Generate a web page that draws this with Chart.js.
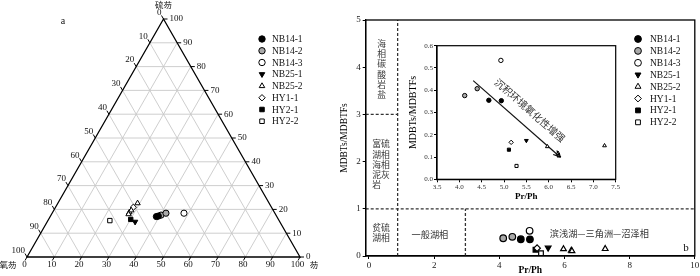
<!DOCTYPE html>
<html>
<head>
<meta charset="utf-8">
<script src="https://cdn.jsdelivr.net/npm/chart.js@4.4.1/dist/chart.umd.min.js"></script>
<style>
    html, body { margin: 0; padding: 0; background: #fff; }
    #wrap { position: relative; width: 700px; height: 276px; overflow: hidden; }
    .box { position: absolute; }
</style>
</head>
<body>
<div id="wrap">
    <div class="box" style="left:0;top:0;width:330px;height:276px"><canvas id="ternChart"></canvas></div>
    <div class="box" style="left:330px;top:0;width:370px;height:276px"><canvas id="mainChart"></canvas></div>
    <div class="box" style="left:400px;top:38px;width:225px;height:168px"><canvas id="insetChart"></canvas></div>
</div>
<script>
(function () {
    'use strict';

    // samples
    var sampleNames = ['NB14-1', 'NB14-2', 'NB14-3', 'NB25-1', 'NB25-2', 'HY1-1', 'HY2-1', 'HY2-2'];
    var pointSample = [0, 0, 1, 1, 2, 3, 4, 4, 4, 4, 5, 6, 7];

    // Pr/Ph vs MDBTs/MDBTFs
    var prPh      = [4.66, 4.94, 4.12, 4.40, 4.93, 5.50, 5.97, 6.21, 6.23, 7.25, 5.16, 5.11, 5.28];
    var mdbtRatio = [0.355, 0.353, 0.376, 0.407, 0.534, 0.174, 0.147, 0.117, 0.105, 0.151, 0.166, 0.133, 0.060];

    // ternary composition (%): 硫芴 / 氧芴 / 芴
    var dbtPct = [17.2, 17.0, 17.6, 18.4, 18.4, 14.8, 18.8, 18.0, 22.6, 19.6, 20.9, 15.8, 15.3];
    var dbfPct = [43.3, 44.1, 42.1, 39.9, 33.3, 53.0, 53.1, 53.8, 48.2, 52.0, 50.6, 54.1, 62.0];
    var fluPct = [39.5, 38.9, 40.3, 41.7, 48.3, 32.2, 28.1, 28.2, 29.2, 28.4, 28.5, 30.1, 22.7];

    // facies boundaries
    var prPhBounds = [0.88, 2.96];
    var ratioBounds = [1, 3];

    // trend arrow in inset
    var trendPrPh = [4.31, 6.25];
    var trendRatio = [0.443, 0.101];

    // ticks
    var ternTicks = [0, 10, 20, 30, 40, 50, 60, 70, 80, 90, 100];
    var mainXTicks = [0, 2, 4, 6, 8, 10];
    var mainYTicks = [0, 1, 2, 3, 4, 5];
    var insetXTicks = [3.5, 4.0, 4.5, 5.0, 5.5, 6.0, 6.5, 7.0, 7.5];
    var insetYTicks = [0.0, 0.1, 0.2, 0.3, 0.4, 0.5, 0.6];

    var markerStyles = [
        { pointStyle: 'circle', fill: '#000' },
        { pointStyle: 'circle', fill: '#a9a9a9' },
        { pointStyle: 'circle', fill: '#fff' },
        { pointStyle: 'triangle', fill: '#000', rotation: 180 },
        { pointStyle: 'triangle', fill: '#fff' },
        { pointStyle: 'rectRot', fill: '#fff' },
        { pointStyle: 'rect', fill: '#000' },
        { pointStyle: 'rect', fill: '#fff' }
    ];

    var serif = "'Liberation Serif', 'DejaVu Serif', serif";
    var cjk = "'Noto Sans CJK SC', sans-serif";
    Chart.defaults.font.family = serif;
    Chart.defaults.color = '#000';
    Chart.defaults.animation = false;

    function markerSets(xs, ys, radius, bw) {
        return sampleNames.map(function (name, k) {
            var st = markerStyles[k];
            var pts = [];
            pointSample.forEach(function (s, i) {
                if (s === k) pts.push({ x: xs[i], y: ys[i] });
            });
            return {
                label: name,
                data: pts,
                pointStyle: st.pointStyle,
                pointRotation: st.rotation || 0,
                pointBackgroundColor: st.fill,
                pointBorderColor: '#000',
                pointBorderWidth: bw,
                pointRadius: radius,
                showLine: false,
                order: 1
            };
        });
    }

    function drawLegend(ctx, x0, y0, dy, gap, radius) {
        sampleNames.forEach(function (name, k) {
            var st = markerStyles[k];
            var y = y0 + k * dy;
            ctx.save();
            ctx.fillStyle = st.fill;
            ctx.strokeStyle = '#000';
            ctx.lineWidth = 1;
            Chart.helpers.drawPoint(ctx, { pointStyle: st.pointStyle, rotation: st.rotation || 0, radius: radius, borderWidth: 1 }, x0, y);
            ctx.fillStyle = '#111';
            ctx.font = '9.5px ' + serif;
            ctx.textAlign = 'left';
            ctx.textBaseline = 'middle';
            ctx.fillText(name, x0 + gap, y + 0.5);
            ctx.restore();
        });
    }

    function text(ctx, str, x, y, font, align, color) {
        ctx.save();
        ctx.font = font;
        ctx.fillStyle = color || '#111';
        ctx.textAlign = align || 'center';
        ctx.textBaseline = 'middle';
        ctx.fillText(str, x, y);
        ctx.restore();
    }

    // ---------- a: ternary ----------
    var ternX = fluPct.map(function (f, i) {
        var sum = f + dbtPct[i] + dbfPct[i];
        return (f + dbtPct[i] / 2) / sum;
    });
    var ternY = dbtPct.map(function (s, i) {
        return s / (s + dbfPct[i] + fluPct[i]);
    });

    var ternPlugin = {
        id: 'ternFrame',
        beforeDatasetsDraw: function (chart) {
            var ctx = chart.ctx;
            var sx = chart.scales.x, sy = chart.scales.y;
            // s = 硫芴 share, f = 芴 share
            var P = function (s, f) { return { x: sx.getPixelForValue(f + s / 2), y: sy.getPixelForValue(s) }; };
            var line = function (a, b) { ctx.beginPath(); ctx.moveTo(a.x, a.y); ctx.lineTo(b.x, b.y); ctx.stroke(); };

            ctx.save();
            ctx.strokeStyle = '#c8c8c8';
            ctx.lineWidth = 0.9;
            for (var i = 1; i < 10; i++) {
                var v = i / 10;
                line(P(v, 0), P(v, 1 - v));
                line(P(0, v), P(1 - v, v));
                line(P(1 - v, 0), P(0, 1 - v));
            }
            var bl = P(0, 0), br = P(0, 1), apex = P(1, 0);
            ctx.strokeStyle = '#000';
            ctx.lineWidth = 1.3;
            ctx.beginPath();
            ctx.moveTo(bl.x, bl.y); ctx.lineTo(br.x, br.y); ctx.lineTo(apex.x, apex.y); ctx.closePath();
            ctx.stroke();

            ctx.lineWidth = 1;
            ternTicks.forEach(function (t) {
                var v = t / 100;
                // bottom: 芴
                var p = P(0, v);
                line(p, { x: p.x - 2, y: p.y + 3.5 });
                text(ctx, String(t), p.x - 2.5, p.y + 7.5, '9px ' + serif);
                // left: 氧芴
                p = P(1 - v, 0);
                line(p, { x: p.x - 2, y: p.y - 3.5 });
                text(ctx, String(t), p.x - 2, p.y - 6.5, '9px ' + serif, 'right');
                // right: 硫芴
                p = P(v, 1 - v);
                line(p, { x: p.x + 4, y: p.y });
                text(ctx, String(t), p.x + 6, p.y, '9px ' + serif, 'left');
            });
            ctx.restore();

            text(ctx, '硫芴', apex.x, apex.y - 14, '8.5px ' + cjk);
            text(ctx, '氧芴', 8, bl.y + 7.5, '8.5px ' + cjk);
            text(ctx, '芴', br.x + 14, br.y + 7.5, '8.5px ' + cjk);
        },
        afterDraw: function (chart) {
            drawLegend(chart.ctx, 262, 39, 11.75, 10, 3.2);
            text(chart.ctx, 'a', 63, 21, '10px ' + serif);
        }
    };

    new Chart(document.getElementById('ternChart').getContext('2d'), {
        type: 'scatter',
        data: { datasets: markerSets(ternX, ternY, 3.1, 1) },
        options: {
            responsive: true,
            maintainAspectRatio: false,
            layout: { padding: { left: 27, right: 30, top: 19, bottom: 19 } },
            plugins: { legend: { display: false }, tooltip: { enabled: false } },
            scales: {
                x: { display: false, min: 0, max: 1 },
                y: { display: false, min: 0, max: 1 }
            }
        },
        plugins: [ternPlugin]
    });

    // ---------- b: Pr/Ph vs MDBTs/MDBTFs ----------
    function dashed(pts) {
        return {
            type: 'line',
            data: pts,
            borderColor: '#333',
            borderWidth: 1.3,
            borderDash: [3, 2],
            pointRadius: 0,
            fill: false,
            order: 10
        };
    }
    var xMin = -0.1, xMax = 10, yMax = 5;
    var mainSets = [
        dashed([{ x: prPhBounds[0], y: 0 }, { x: prPhBounds[0], y: yMax }]),
        dashed([{ x: xMin, y: ratioBounds[1] }, { x: prPhBounds[0], y: ratioBounds[1] }]),
        dashed([{ x: xMin, y: ratioBounds[0] }, { x: xMax, y: ratioBounds[0] }]),
        dashed([{ x: prPhBounds[1], y: 0 }, { x: prPhBounds[1], y: ratioBounds[0] }])
    ].concat(markerSets(prPh, mdbtRatio, 3.3, 1.2));

    var mainPlugin = {
        id: 'mainDecor',
        afterDatasetsDraw: function (chart) {
            var ctx = chart.ctx, ca = chart.chartArea;
            var sx = chart.scales.x, sy = chart.scales.y;
            ctx.save();
            ctx.strokeStyle = '#000';
            ctx.lineWidth = 1.3;
            ctx.strokeRect(ca.left, ca.top, ca.right - ca.left, ca.bottom - ca.top);
            ctx.restore();

            var f = '8.8px ' + cjk;
            var colX = sx.getPixelForValue(0.39);
            var chars = ['海', '相', '碳', '酸', '岩', '盐'];
            chars.forEach(function (ch, i) {
                text(ctx, ch, colX, sy.getPixelForValue(4.5) + i * 10.2, f, 'center', '#333');
            });
            var leftX = sx.getPixelForValue(0.1);
            ['富硫', '湖相', '海相', '泥灰', '岩'].forEach(function (row, i) {
                text(ctx, row, leftX, sy.getPixelForValue(2.37) + i * 10.2, f, 'left', '#333');
            });
            ['贫硫', '湖相'].forEach(function (row, i) {
                text(ctx, row, leftX, sy.getPixelForValue(0.61) + i * 10.2, f, 'left', '#333');
            });
            text(ctx, '一般湖相', sx.getPixelForValue(1.87), sy.getPixelForValue(0.46), '9.2px ' + cjk, 'center', '#333');
            text(ctx, '滨浅湖—三角洲—沼泽相', sx.getPixelForValue(7.07), sy.getPixelForValue(0.48), '9.2px ' + cjk, 'center', '#333');
            text(ctx, 'b', sx.getPixelForValue(9.73), sy.getPixelForValue(0.17), '11px ' + serif);

            drawLegend(ctx, 308, 39, 11.9, 12, 3.4);
        }
    };

    new Chart(document.getElementById('mainChart').getContext('2d'), {
        type: 'scatter',
        data: { datasets: mainSets },
        options: {
            responsive: true,
            maintainAspectRatio: false,
            layout: { padding: { left: 0, right: 3.5, top: 20, bottom: 0 } },
            plugins: { legend: { display: false }, tooltip: { enabled: false } },
            scales: {
                x: {
                    type: 'linear', min: xMin, max: xMax,
                    afterBuildTicks: function (s) { s.ticks = mainXTicks.map(function (v) { return { value: v }; }); },
                    afterFit: function (s) { s.height = 20; s.paddingLeft = 0; s.paddingRight = 0; },
                    grid: { display: true, drawOnChartArea: false, tickLength: 3, color: '#000' },
                    border: { color: '#000', width: 1.3 },
                    ticks: { font: { size: 9 }, padding: 1, maxRotation: 0, color: '#222' },
                    title: { display: true, text: 'Pr/Ph', font: { size: 9.5, weight: 'bold' }, padding: 0 }
                },
                y: {
                    type: 'linear', min: 0, max: yMax,
                    afterBuildTicks: function (s) { s.ticks = mainYTicks.map(function (v) { return { value: v }; }); },
                    afterFit: function (s) { s.width = 35.7; s.paddingTop = 0; s.paddingBottom = 0; },
                    grid: { display: true, drawOnChartArea: false, tickLength: 3, color: '#000' },
                    border: { color: '#000', width: 1.3 },
                    ticks: { font: { size: 9 }, padding: 2, color: '#222' },
                    title: { display: true, text: 'MDBTs/MDBTFs', font: { size: 9.5 }, padding: { top: 9, bottom: 0 } }
                }
            }
        },
        plugins: [mainPlugin]
    });

    // ---------- inset ----------
    var insetSets = [{
        type: 'line',
        data: [{ x: trendPrPh[0], y: trendRatio[0] }, { x: trendPrPh[1], y: trendRatio[1] }],
        borderColor: '#111',
        borderWidth: 1.2,
        pointRadius: 0,
        fill: false,
        order: 5
    }].concat(markerSets(prPh, mdbtRatio, 2.2, 1));

    var insetPlugin = {
        id: 'insetDecor',
        afterDatasetsDraw: function (chart) {
            var ctx = chart.ctx, ca = chart.chartArea;
            var sx = chart.scales.x, sy = chart.scales.y;
            ctx.save();
            ctx.strokeStyle = '#000';
            ctx.lineWidth = 1.2;
            ctx.strokeRect(ca.left, ca.top, ca.right - ca.left, ca.bottom - ca.top);

            var p1 = { x: sx.getPixelForValue(trendPrPh[0]), y: sy.getPixelForValue(trendRatio[0]) };
            var p2 = { x: sx.getPixelForValue(trendPrPh[1]), y: sy.getPixelForValue(trendRatio[1]) };
            var ang = Math.atan2(p2.y - p1.y, p2.x - p1.x);
            ctx.lineWidth = 1.1;
            ctx.beginPath();
            ctx.moveTo(p2.x - 7 * Math.cos(ang - 0.4), p2.y - 7 * Math.sin(ang - 0.4));
            ctx.lineTo(p2.x, p2.y);
            ctx.lineTo(p2.x - 7 * Math.cos(ang + 0.4), p2.y - 7 * Math.sin(ang + 0.4));
            ctx.stroke();

            ctx.translate(sx.getPixelForValue(5.58), sy.getPixelForValue(0.31));
            ctx.rotate(ang);
            ctx.font = '10px ' + cjk;
            ctx.fillStyle = '#333';
            ctx.textAlign = 'center';
            ctx.textBaseline = 'middle';
            ctx.fillText('沉积环境氧化性增强', 0, 0);
            ctx.restore();
        }
    };

    new Chart(document.getElementById('insetChart').getContext('2d'), {
        type: 'scatter',
        data: { datasets: insetSets },
        options: {
            responsive: true,
            maintainAspectRatio: false,
            layout: { padding: { left: 0, right: 9.3, top: 7.7, bottom: 0 } },
            plugins: { legend: { display: false }, tooltip: { enabled: false } },
            scales: {
                x: {
                    type: 'linear', min: 3.5, max: 7.5,
                    afterBuildTicks: function (s) { s.ticks = insetXTicks.map(function (v) { return { value: v }; }); },
                    afterFit: function (s) { s.height = 26.7; s.paddingLeft = 0; s.paddingRight = 0; },
                    grid: { display: true, drawOnChartArea: false, tickLength: 3, color: '#000' },
                    border: { color: '#000', width: 1.2 },
                    ticks: { font: { size: 7 }, padding: 1, maxRotation: 0, color: '#333', callback: function (v) { return v.toFixed(1); } },
                    title: { display: true, text: 'Pr/Ph', font: { size: 9, weight: 'bold' }, padding: { top: 0, bottom: 3.6 } }
                },
                y: {
                    type: 'linear', min: 0, max: 0.6,
                    afterBuildTicks: function (s) { s.ticks = insetYTicks.map(function (v) { return { value: v }; }); },
                    afterFit: function (s) { s.width = 37; s.paddingTop = 0; s.paddingBottom = 0; },
                    grid: { display: true, drawOnChartArea: false, tickLength: 3, color: '#000' },
                    border: { color: '#000', width: 1.2 },
                    ticks: { font: { size: 7 }, padding: 1, color: '#333', callback: function (v) { return v.toFixed(1); } },
                    title: { display: true, text: 'MDBTs/MDBTFs', font: { size: 10 }, padding: { top: 7, bottom: 0 } }
                }
            }
        },
        plugins: [insetPlugin]
    });
})();
</script>
</body>
</html>
